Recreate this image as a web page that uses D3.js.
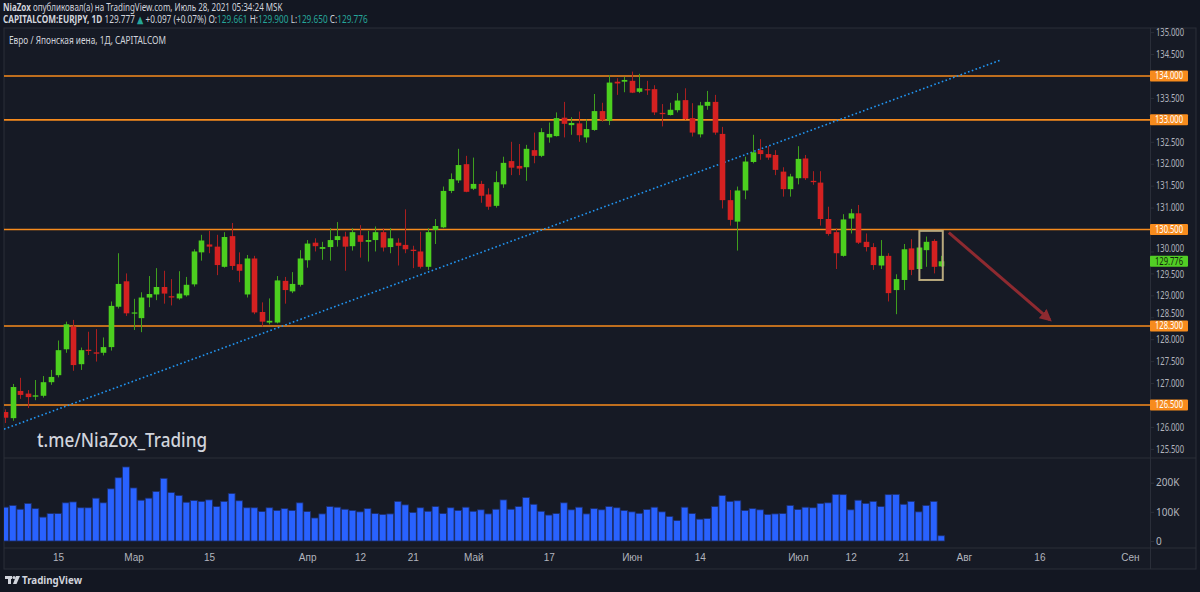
<!DOCTYPE html>
<html>
<head>
<meta charset="utf-8">
<script src="https://cdn.jsdelivr.net/npm/d3@7"></script>
<style>
  html, body { margin: 0; padding: 0; background: #131722; }
  svg { display: block; font-family: "Noto Sans", "DejaVu Sans", sans-serif; }
</style>
</head>
<body>
<svg id="chart" width="1200" height="592"></svg>
<script>

// EURJPY daily candles, 4 Feb - 28 Jul 2021
const opens = [126.34,126.20,126.82,126.76,126.69,126.71,127.02,127.18,127.77,128.29,127.43,127.76,127.70,127.69,127.82,128.74,129.32,128.59,128.48,128.95,
  129.02,129.19,128.98,128.93,129.00,129.25,129.98,130.16,130.11,129.65,130.35,129.71,129.02,129.84,128.62,128.38,128.38,129.33,129.09,129.24,
  129.80,130.20,130.06,130.10,130.26,130.34,130.12,130.37,130.22,130.26,130.44,130.10,130.20,130.15,130.04,130.00,129.65,130.49,130.55,131.38,
  131.62,131.99,131.43,131.54,131.30,131.04,131.53,132.06,131.95,131.92,132.31,132.18,132.60,132.63,133.05,132.88,132.92,132.60,132.77,133.20,
  132.98,133.87,133.87,133.89,133.64,133.70,133.70,133.16,133.11,133.22,133.45,133.04,132.67,133.32,133.41,132.68,131.17,130.68,131.39,132.04,
  132.31,132.22,132.20,131.82,131.42,131.67,132.12,131.61,131.57,130.74,130.44,129.90,130.75,130.87,130.22,130.10,129.68,129.90,129.12,129.35,
  130.07,129.60,130.03,130.24,129.661];
const highs = [126.40,126.98,127.12,126.84,127.07,127.16,127.30,127.97,128.40,128.44,127.81,128.17,128.23,128.04,128.86,129.96,129.50,128.92,129.07,129.44,
  129.62,129.56,129.37,129.55,129.42,130.05,130.38,130.47,130.38,130.44,130.65,129.98,129.92,129.90,128.84,128.93,129.44,129.42,129.53,130.03,
  130.26,130.30,130.22,130.53,130.67,130.45,130.53,130.60,130.47,130.57,130.53,130.53,130.30,130.96,130.13,130.45,130.53,130.74,131.48,131.78,
  132.34,132.18,132.14,131.61,131.44,131.83,132.16,132.50,132.45,132.43,132.71,132.81,132.94,133.17,133.41,133.06,133.19,133.01,133.59,133.39,
  134.02,133.95,133.98,134.10,134.05,133.89,133.79,133.36,133.39,133.61,133.72,133.38,133.41,133.66,133.57,132.84,131.40,131.48,132.16,132.66,
  132.56,132.40,132.31,131.92,131.77,132.40,132.20,131.83,131.83,131.02,130.53,130.85,130.97,131.06,130.41,130.19,130.26,129.96,129.48,130.17,
  130.28,130.15,130.34,130.28,129.900];
const lows = [126.09,126.14,126.64,126.43,126.61,126.67,126.96,127.13,127.69,127.28,127.30,127.64,127.49,127.63,127.74,128.70,128.53,128.21,128.16,128.73,
  128.89,128.81,128.77,128.90,128.97,129.20,129.79,129.96,129.46,129.63,129.58,129.30,128.95,128.57,128.29,128.34,128.36,128.81,129.05,129.20,
  129.63,130.00,129.81,129.79,130.11,129.56,130.02,129.86,129.77,130.00,130.00,129.96,129.68,129.96,129.62,129.61,129.58,130.17,130.53,131.33,
  131.56,131.35,131.40,131.11,130.95,131.00,131.45,131.74,131.74,131.61,132.01,132.15,132.48,132.62,132.60,132.66,132.50,132.48,132.75,132.96,
  132.88,133.57,133.63,133.61,133.61,133.57,133.11,132.85,133.10,133.17,133.00,132.62,132.60,133.23,132.66,130.98,130.59,130.02,131.19,132.01,
  132.09,132.09,131.74,131.25,131.25,131.53,131.63,131.52,130.59,130.36,129.60,129.88,130.41,130.17,130.00,129.58,129.60,128.86,128.57,129.12,
  129.46,129.56,129.65,129.50,129.650];
const closes = [126.21,126.91,126.73,126.68,126.72,127.02,127.14,127.75,128.34,127.41,127.75,127.73,127.67,127.82,128.76,129.26,128.59,128.61,128.95,129.03,
  129.19,129.04,128.95,129.04,129.24,130.00,130.25,130.11,129.69,130.33,129.67,129.56,129.84,128.61,128.40,128.42,129.34,129.12,129.26,129.84,
  130.18,130.12,130.10,130.26,130.35,130.11,130.44,130.22,130.26,130.44,130.09,130.30,130.13,130.05,130.01,129.65,130.44,130.58,131.38,131.65,
  131.97,131.36,131.54,131.27,131.02,131.58,132.02,131.91,131.89,132.34,132.18,132.72,132.68,133.04,132.91,132.93,132.65,132.79,133.20,133.00,
  133.85,133.83,133.91,133.62,133.72,133.68,133.17,133.13,133.23,133.44,133.02,132.71,133.33,133.41,132.71,131.17,130.72,131.39,132.05,132.26,
  132.22,132.14,131.86,131.42,131.71,132.11,131.67,131.58,130.74,130.40,129.96,130.73,130.87,130.20,130.10,129.69,129.90,129.05,129.37,130.05,
  129.58,130.09,130.22,129.65,129.776];
// volume in thousands
const volumes = [116,122,109,129,111,82,94,94,131,134,114,114,147,131,179,217,254,182,140,147,
  170,215,166,156,133,139,136,141,118,136,163,138,114,114,101,114,105,111,105,131,
  101,79,93,118,116,109,105,100,111,94,91,93,136,124,98,114,102,118,94,114,
  105,116,102,107,93,109,141,109,118,149,126,102,89,94,131,107,116,93,111,107,
  118,114,105,100,95,108,116,100,84,70,116,94,75,77,118,156,136,138,105,111,
  107,91,93,94,122,108,116,114,129,131,160,159,107,140,129,136,118,159,160,126,
  136,100,122,136,18];

// axis ticks
const priceTicks = [125.5,126,126.5,127,127.5,128,128.5,129,129.5,130,130.5,131,131.5,132,132.5,133,133.5,134,134.5,135];
const volumeTicks = [0, 100, 200];
const timeTickDates = ["2021-02-15","2021-03-01","2021-03-15","2021-04-01","2021-04-12","2021-04-21","2021-05-03","2021-05-17",
  "2021-06-01","2021-06-14","2021-07-01","2021-07-12","2021-07-21","2021-08-02","2021-08-16","2021-09-01"];
const timeTickLabels = ["15","Мар","15","Апр","12","21","Май","17","Июн","14","Июл","12","21","Авг","16","Сен"];

// drawings on the chart
const levels = [134.0, 133.0, 130.5, 128.3, 126.5];
const trendLine = [[-0.16, 125.95], [131.8, 134.36]];   // [bar index, price]
const boxDrawing = { i0: 121.1, i1: 124.2, p0: 130.47, p1: 129.35 };
const arrowDrawing = [[125.0, 130.43], [138.4, 128.44]];

const col = {
  page: "#131722", pane: "#161a25", border: "#2a2e39", text: "#b2b5be", bright: "#d1d4dc",
  up: "#4ccf1f", upWick: "#3f9f1e", down: "#d42121", downWick: "#a91f1f",
  level: "#f78b1d", vol: "#2962ff", trend: "#2196f3", teal: "#26a69a"
};

// trading days (weekdays) starting with the first bar
let days = d3.timeDay.range(new Date(2021, 1, 4), new Date(2021, 8, 6)).filter(d => d.getDay() % 6 != 0);
let fmtDay = d3.timeFormat("%Y-%m-%d");
let dayIndex = {};
days.forEach((d, i) => { dayIndex[fmtDay(d)] = i; });

// layout
const L = 4, R = 1150, W = 1196;
const priceTop = 28, priceBottom = 458, volBottom = 548, frameBottom = 569;

let x = d3.scaleLinear().domain([-0.16, 151.65]).range([L, R]);
let y = d3.scaleLinear().domain([134, 126.5]).range([76, 405]);
let yv = d3.scaleLinear().domain([0, 200]).range([541, 482.7]);

let svg = d3.select("#chart");
svg.append("rect").attr("width", 1200).attr("height", 592).attr("fill", col.page);
svg.append("rect").attr("x", L).attr("y", priceTop).attr("width", W - L).attr("height", frameBottom - priceTop)
  .attr("fill", col.pane).attr("stroke", col.border);

// pane separators
svg.append("line").attr("x1", L).attr("x2", W).attr("y1", priceBottom).attr("y2", priceBottom).attr("stroke", col.border);
svg.append("line").attr("x1", L).attr("x2", W).attr("y1", volBottom).attr("y2", volBottom).attr("stroke", col.border);

let defs = svg.append("defs");
defs.append("clipPath").attr("id", "price-clip").append("rect")
  .attr("x", L).attr("y", priceTop).attr("width", R - L).attr("height", priceBottom - priceTop);
defs.append("clipPath").attr("id", "vol-clip").append("rect")
  .attr("x", L).attr("y", priceBottom).attr("width", R - L).attr("height", volBottom - priceBottom);
defs.append("marker").attr("id", "arrow-head").attr("viewBox", "0 0 10 10").attr("refX", 8).attr("refY", 5)
  .attr("markerWidth", 4).attr("markerHeight", 4).attr("orient", "auto")
  .append("path").attr("d", "M0,0 L10,5 L0,10 z").attr("fill", "#8e2a30");

let pricePlot = svg.append("g").attr("clip-path", "url(#price-clip)");
let volPlot = svg.append("g").attr("clip-path", "url(#vol-clip)");

//horizontal levels
pricePlot.selectAll("line.level")
  .data(levels)
  .enter()
  .append("line")
  .attr("class", "level")
  .attr("x1", L).attr("x2", R)
  .attr("y1", d => y(d)).attr("y2", d => y(d))
  .attr("stroke", col.level)
  .attr("stroke-width", 1.6);

//dotted trend line
pricePlot.append("line")
  .attr("x1", x(trendLine[0][0])).attr("y1", y(trendLine[0][1]))
  .attr("x2", x(trendLine[1][0])).attr("y2", y(trendLine[1][1]))
  .attr("stroke", col.trend)
  .attr("stroke-width", 1.6)
  .attr("stroke-dasharray", "1.6,2.4");

//candles
let bars = opens.map((o, i) => ({ i: i, o: o, h: highs[i], l: lows[i], c: closes[i], v: volumes[i] }));
let step = x(1) - x(0);
let bodyW = 5.6;

let candle = pricePlot.selectAll("g.candle")
  .data(bars)
  .enter()
  .append("g")
  .attr("class", "candle");

candle.append("line")
  .attr("x1", d => Math.round(x(d.i)) + 0.5).attr("x2", d => Math.round(x(d.i)) + 0.5)
  .attr("y1", d => y(d.h)).attr("y2", d => y(d.l))
  .attr("stroke", d => d.c >= d.o ? col.upWick : col.downWick)
  .attr("stroke-width", 1);

candle.append("rect")
  .attr("x", d => Math.round(x(d.i)) + 0.5 - bodyW / 2)
  .attr("y", d => y(Math.max(d.o, d.c)))
  .attr("width", bodyW)
  .attr("height", d => Math.max(1.2, Math.abs(y(d.o) - y(d.c))))
  .attr("fill", d => d.c >= d.o ? col.up : col.down);

//rectangle drawing around the last candles
pricePlot.append("rect")
  .attr("x", x(boxDrawing.i0)).attr("y", y(boxDrawing.p0))
  .attr("width", x(boxDrawing.i1) - x(boxDrawing.i0))
  .attr("height", y(boxDrawing.p1) - y(boxDrawing.p0))
  .attr("fill", "none")
  .attr("stroke", "#b8a97d")
  .attr("stroke-width", 2);

//arrow drawing
pricePlot.append("line")
  .attr("x1", x(arrowDrawing[0][0])).attr("y1", y(arrowDrawing[0][1]))
  .attr("x2", x(arrowDrawing[1][0])).attr("y2", y(arrowDrawing[1][1]))
  .attr("stroke", "#8e2a30")
  .attr("stroke-width", 3)
  .attr("marker-end", "url(#arrow-head)");

//volume bars
volPlot.selectAll("rect")
  .data(bars)
  .enter()
  .append("rect")
  .attr("x", d => x(d.i) - step * 0.45)
  .attr("y", d => yv(d.v))
  .attr("width", step * 0.9)
  .attr("height", d => yv(0) - yv(d.v))
  .attr("fill", col.vol)
  .attr("stroke", "#1d2f6b")
  .attr("stroke-width", 0.8);

// price labels of the levels and the last price
let tags = levels.map(p => ({ p: p, bg: col.level, fg: "#ffffff" }));
tags.push({ p: closes[closes.length - 1], bg: "#52cf25", fg: "#10210a" });

// right price axis
let priceAxis = svg.append("g")
  .attr("transform", "translate(" + R + ",0)")
  .call(d3.axisRight(y).tickValues(priceTicks).tickSize(4).tickPadding(2).tickFormat(d3.format(".3f")));
priceAxis.select(".domain").remove();

let volAxis = svg.append("g")
  .attr("transform", "translate(" + R + ",0)")
  .call(d3.axisRight(yv).tickValues(volumeTicks).tickSize(4).tickPadding(2).tickFormat(d => d ? d + "K" : "0"));
volAxis.select(".domain").remove();

[priceAxis, volAxis].forEach(ax => {
  ax.selectAll("line").attr("stroke", col.border);
  ax.selectAll("text").attr("fill", col.text).attr("font-size", "10px").attr("font-family", "'Noto Sans', sans-serif");
});
priceAxis.selectAll("text").attr("textLength", 28).attr("lengthAdjust", "spacingAndGlyphs");

// tick labels under a tag: drop the ones the tag repeats, push the near ones clear of it
priceAxis.selectAll(".tick").each(function (d) {
  let text = d3.select(this).select("text");
  tags.forEach(t => {
    let diff = y(d) - y(t.p);
    if (Math.abs(diff) < 0.5) {
      text.remove();
    } else if (Math.abs(diff) < 13) {
      text.attr("transform", "translate(0," + (Math.sign(diff) * (13 - Math.abs(diff))) + ")");
    }
  });
});

svg.append("line").attr("x1", R + 0.5).attr("x2", R + 0.5).attr("y1", priceTop).attr("y2", frameBottom).attr("stroke", col.border);

// bottom time axis
let timeAxis = svg.append("g")
  .attr("transform", "translate(0," + volBottom + ")")
  .call(d3.axisBottom(x)
    .tickValues(timeTickDates.map(s => dayIndex[s]))
    .tickSize(0).tickPadding(6)
    .tickFormat((d, i) => timeTickLabels[i]));
timeAxis.select(".domain").remove();
timeAxis.selectAll("text").attr("fill", col.text).attr("font-size", "10px");

let tag = svg.selectAll("g.tag")
  .data(tags)
  .enter()
  .append("g")
  .attr("class", "tag")
  .attr("transform", d => "translate(" + R + "," + y(d.p) + ")");

tag.append("rect").attr("x", 0).attr("y", -5.5).attr("width", 38).attr("height", 11).attr("rx", 1).attr("fill", d => d.bg);
tag.append("text")
  .attr("x", 5).attr("y", 3.4)
  .attr("fill", d => d.fg)
  .attr("font-size", "10px")
  .attr("textLength", 28).attr("lengthAdjust", "spacingAndGlyphs")
  .text(d => d.p.toFixed(3));

// header lines: one text with coloured tspans, squeezed sideways by a scale transform
let header_line = (pieces, x0, baseline, width) => {
  let g = svg.append("g");
  let t = g.append("text").attr("x", 0).attr("y", 0).attr("font-size", "10px").attr("fill", col.bright)
    .style("white-space", "pre");
  pieces.forEach(p => {
    t.append("tspan")
      .attr("font-weight", p.bold ? "bold" : "normal")
      .attr("fill", p.color || col.bright)
      .text(p.t);
  });
  let k = width / t.node().getComputedTextLength();
  g.attr("transform", "translate(" + x0 + "," + baseline + ") scale(" + k + ",1)");
};

header_line([
  { t: "NiaZox", bold: true },
  { t: " опубликовал(а) на TradingView.com, Июль 28, 2021 05:34:24 MSK" }
], 3, 10.5, 280);

header_line([
  { t: "CAPITALCOM:EURJPY, 1D", bold: true },
  { t: " 129.777 " },
  { t: "▲", color: col.teal },
  { t: " +0.097 (+0.07%) O:" },
  { t: "129.661", color: col.teal },
  { t: " H:" },
  { t: "129.900", color: col.teal },
  { t: " L:" },
  { t: "129.650", color: col.teal },
  { t: " C:" },
  { t: "129.776", color: col.teal }
], 3, 22.5, 365);

svg.append("text").attr("x", 9).attr("y", 43.5).attr("font-size", "10px").attr("fill", col.bright)
  .attr("textLength", 157).attr("lengthAdjust", "spacingAndGlyphs")
  .text("Евро / Японская иена, 1Д, CAPITALCOM");

// watermark
svg.append("text").attr("x", 37).attr("y", 447).attr("font-size", "20px").attr("font-weight", 500).attr("fill", col.bright)
  .attr("textLength", 170).attr("lengthAdjust", "spacingAndGlyphs")
  .text("t.me/NiaZox_Trading");

// tradingview logo
let logo = svg.append("g").attr("fill", "#d1d4dc");
logo.append("rect").attr("x", 5).attr("y", 576).attr("width", 7).attr("height", 3);
logo.append("rect").attr("x", 8).attr("y", 576).attr("width", 3).attr("height", 8);
logo.append("circle").attr("cx", 14).attr("cy", 577.5).attr("r", 1.6);
logo.append("path").attr("d", "M16,576 L20,576 L16.5,584 L13,584 z");
svg.append("text").attr("x", 22).attr("y", 584).attr("font-size", "11px").attr("font-weight", "bold")
  .attr("fill", col.bright).attr("textLength", 60).attr("lengthAdjust", "spacingAndGlyphs").text("TradingView");

</script>
</body>
</html>
